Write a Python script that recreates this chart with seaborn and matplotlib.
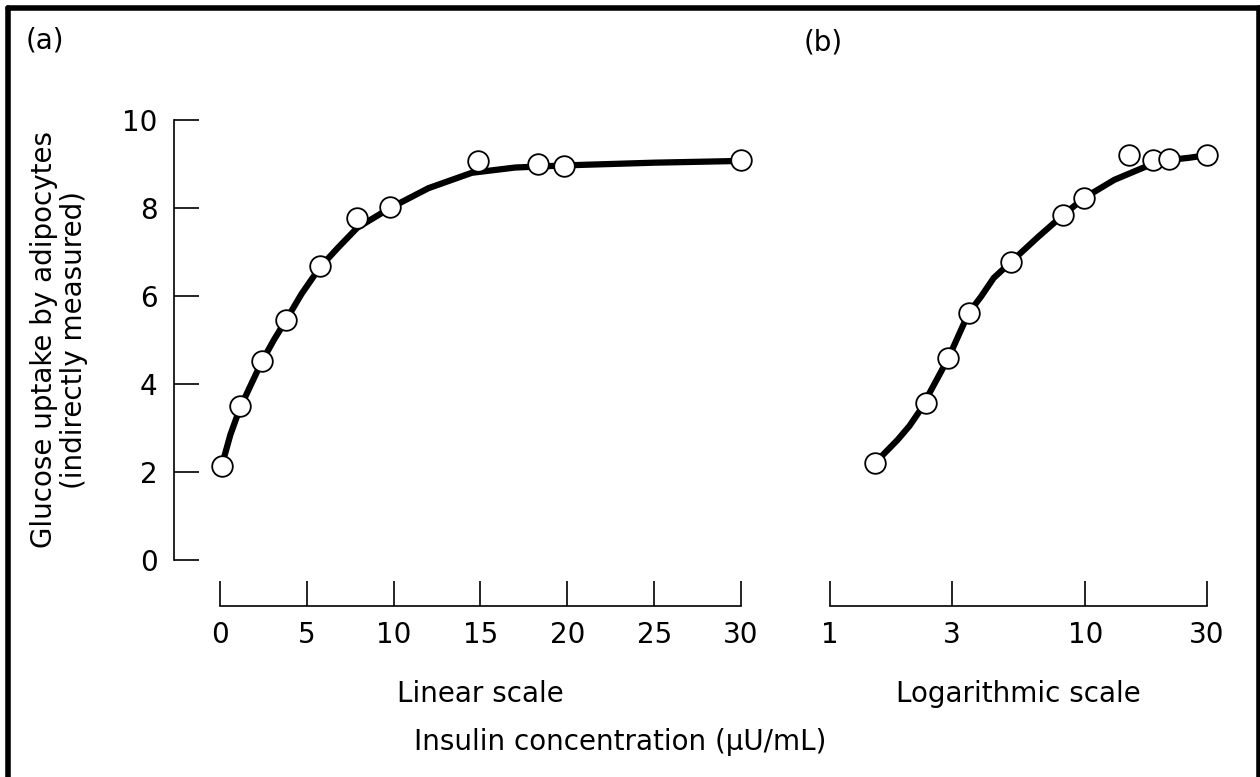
import matplotlib
matplotlib.use("Agg")
import matplotlib.pyplot as plt
from matplotlib.lines import Line2D
from matplotlib.ticker import NullLocator
import seaborn as sns

sns.set_style("white")
plt.rcParams.update({"font.family": ["DejaVu Sans"], "font.size": 20,
                     "text.color": "black", "axes.labelcolor": "black",
                     "xtick.color": "black", "ytick.color": "black"})

# (a) linear scale: measured points + curve as drawn in the figure
LIN_X = [0.1, 1.15, 2.4, 3.8, 5.75, 7.9, 9.8, 14.85, 18.3, 19.8, 30]
LIN_Y = [2.14, 3.5, 4.52, 5.45, 6.68, 7.77, 8.02, 9.07, 9.0, 8.95, 9.09]
LIN_CX = [0.1, 0.6, 1.15, 1.8, 2.4, 3.1, 3.8, 4.7, 5.75, 6.8, 7.9, 9.8, 12.0, 14.5, 17.0, 20.0, 25.0, 30.0]
LIN_CY = [2.14, 2.85, 3.45, 4.0, 4.5, 5.0, 5.45, 6.05, 6.65, 7.1, 7.55, 8.0, 8.45, 8.8, 8.92, 8.97, 9.03, 9.07]

# (b) logarithmic scale
LOG_X = [1.5, 2.37, 2.91, 3.49, 5.11, 8.19, 9.91, 14.8, 18.5, 21.2, 30]
LOG_Y = [2.2, 3.57, 4.59, 5.61, 6.77, 7.84, 8.23, 9.2, 9.09, 9.11, 9.2]
LOG_CX = [1.5, 1.65, 1.84, 2.05, 2.26, 2.91, 3.49, 3.9, 4.38, 5.11, 6.53, 8.19, 9.91, 13.0, 17.1, 21.2, 25.4, 30]
LOG_CY = [2.2, 2.45, 2.73, 3.05, 3.41, 4.59, 5.61, 5.98, 6.41, 6.77, 7.34, 7.84, 8.23, 8.64, 8.93, 9.09, 9.14, 9.2]

LIN_TICKS = [0, 5, 10, 15, 20, 25, 30]
LOG_TICKS = [1, 3, 10, 30]
Y_TICKS = [0, 2, 4, 6, 8, 10]

W, H = 1260, 777
fig = plt.figure(figsize=(W / 100, H / 100), dpi=100)
bot = (H - 560) / H
hgt = 440 / H
ax_a = fig.add_axes([220 / W, bot, 521 / W, hgt])
ax_b = fig.add_axes([830 / W, bot, 377 / W, hgt])

pts = dict(marker="o", s=220, color="white", edgecolor="black", linewidth=1.3, zorder=5, clip_on=False)
crv = dict(color="black", linewidth=4.5, zorder=3, clip_on=False, solid_capstyle="round", solid_joinstyle="round")

sns.lineplot(x=LIN_CX, y=LIN_CY, ax=ax_a, sort=False, estimator=None, **crv)
sns.scatterplot(x=LIN_X, y=LIN_Y, ax=ax_a, **pts)
sns.lineplot(x=LOG_CX, y=LOG_CY, ax=ax_b, sort=False, estimator=None, **crv)
sns.scatterplot(x=LOG_X, y=LOG_Y, ax=ax_b, **pts)

for ax in (ax_a, ax_b):
    ax.set_ylim(0, 10)
    for s in ("top", "right"):
        ax.spines[s].set_visible(False)
    ax.spines["bottom"].set_position(("outward", 33))
    ax.spines["bottom"].set_linewidth(1.2)
    ax.spines["bottom"].set_color("black")
    ax.tick_params(axis="x", bottom=True, direction="in", length=18, width=1.2, pad=11, labelsize=20)

ax_a.set_xlim(0, 30)
ax_a.set_xticks(LIN_TICKS)
ax_a.spines["bottom"].set_bounds(0, 30)
ax_a.spines["left"].set_position(("outward", 33))
ax_a.spines["left"].set_bounds(0, 10)
ax_a.spines["left"].set_linewidth(1.2)
ax_a.spines["left"].set_color("black")
ax_a.set_yticks(Y_TICKS)
ax_a.tick_params(axis="y", left=True, direction="in", length=18, width=1.2, pad=12, labelsize=20)
ax_a.set_xlabel("Linear scale", fontsize=20, labelpad=22)
ax_a.set_ylabel("Glucose uptake by adipocytes\n(indirectly measured)", fontsize=20, linespacing=1.1)
ax_a.yaxis.set_label_coords((88 - 220) / 521, 0.5)

ax_b.set_xscale("log")
ax_b.set_xlim(1, 30)
ax_b.set_xticks(LOG_TICKS)
ax_b.set_xticklabels([str(t) for t in LOG_TICKS])
ax_b.xaxis.set_minor_locator(NullLocator())
ax_b.spines["bottom"].set_bounds(1, 30)
ax_b.spines["left"].set_visible(False)
ax_b.set_yticks([])
ax_b.set_xlabel("Logarithmic scale", fontsize=20, labelpad=22)

fig.text(620 / W, 1 - 742 / H, "Insulin concentration (\u03bcU/mL)", ha="center", va="center", fontsize=20)
fig.text(26 / W, 1 - 40 / H, "(a)", ha="left", va="center", fontsize=20)
fig.text(804 / W, 1 - 43 / H, "(b)", ha="left", va="center", fontsize=20)

# frame round the figure
fr = dict(color="black", linewidth=4, transform=fig.transFigure)
fig.add_artist(Line2D([8 / W, 8 / W], [0, 1 - 8 / H], **fr))
fig.add_artist(Line2D([8 / W, 1], [1 - 8 / H, 1 - 8 / H], **fr))
fig.add_artist(Line2D([1 - 1.5 / W, 1 - 1.5 / W], [0, 1 - 8 / H], **fr))

fig.savefig("out.png", dpi=100)
